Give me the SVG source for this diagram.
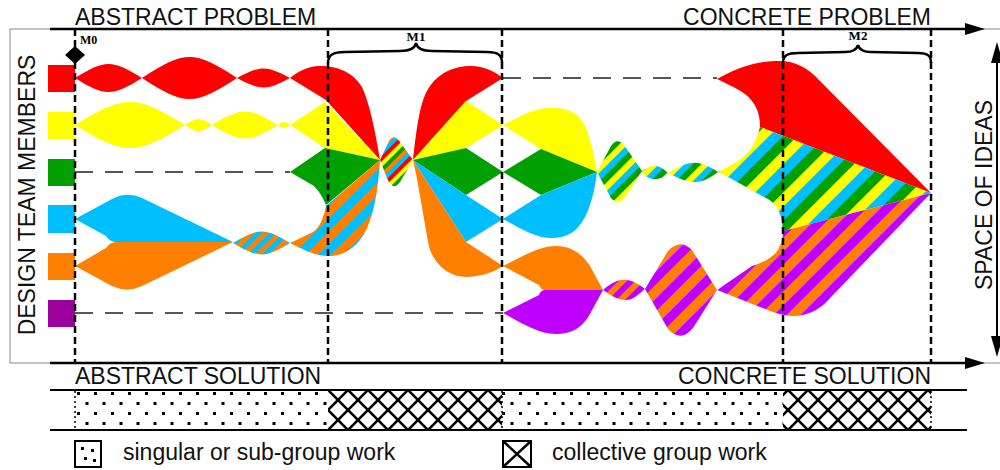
<svg xmlns="http://www.w3.org/2000/svg" width="1000" height="470" viewBox="0 0 1000 470">
<style>
text{font-family:"Liberation Sans",Arial,sans-serif;font-size:23px;fill:#111}
.m{font-family:"Liberation Serif","Times New Roman",serif;font-size:13px;font-weight:bold;fill:#000}
.vd{stroke:#000;stroke-width:2.5;stroke-dasharray:7 4;fill:none}
.bd{stroke:#000;stroke-width:1.5;stroke-dasharray:2 3;fill:none}
.hd{stroke:#222;stroke-width:1.3;stroke-dasharray:18 12;fill:none}
.ax{stroke:#000;stroke-width:2.5}
.br{stroke:#000;stroke-width:2.5;fill:none}
.r{fill:#ff0000}.y{fill:#ffff00}.g{fill:#00a000}.b{fill:#00bfff}.o{fill:#ff8000}.p{fill:#c000ff}
</style>
<defs>
<pattern id="bos" width="10" height="10" patternUnits="userSpaceOnUse" patternTransform="rotate(45)"><rect width="5" height="10" fill="#ff8000"/><rect x="5" width="5" height="10" fill="#00bfff"/></pattern>
<pattern id="bol" width="18" height="18" patternUnits="userSpaceOnUse" patternTransform="rotate(45)"><rect width="9" height="18" fill="#ff8000"/><rect x="9" width="9" height="18" fill="#00bfff"/></pattern>
<pattern id="rygbo" width="20" height="20" patternUnits="userSpaceOnUse" patternTransform="rotate(45)"><rect width="4" height="20" fill="#ff0000"/><rect x="4" width="4" height="20" fill="#ffff00"/><rect x="8" width="4" height="20" fill="#00a000"/><rect x="12" width="4" height="20" fill="#ff8000"/><rect x="16" width="4" height="20" fill="#00bfff"/></pattern>
<pattern id="ybgs" width="18" height="18" patternUnits="userSpaceOnUse" patternTransform="rotate(45)"><rect width="6" height="18" fill="#ffff00"/><rect x="6" width="6" height="18" fill="#00bfff"/><rect x="12" width="6" height="18" fill="#00a000"/></pattern>
<pattern id="ybgl" width="30" height="30" patternUnits="userSpaceOnUse" patternTransform="rotate(45)"><rect width="10" height="30" fill="#ffff00"/><rect x="10" width="10" height="30" fill="#00bfff"/><rect x="20" width="10" height="30" fill="#00a000"/></pattern>
<pattern id="pos" width="12" height="12" patternUnits="userSpaceOnUse" patternTransform="rotate(45)"><rect width="6" height="12" fill="#ff8000"/><rect x="6" width="6" height="12" fill="#c000ff"/></pattern>
<pattern id="pol" width="19" height="19" patternUnits="userSpaceOnUse" patternTransform="rotate(45)"><rect width="9.5" height="19" fill="#ff8000"/><rect x="9.5" width="9.5" height="19" fill="#c000ff"/></pattern>
<pattern id="dots" width="17" height="20" patternUnits="userSpaceOnUse" x="75" y="390"><rect x="2" y="2" width="3" height="3" fill="#000"/><rect x="10.5" y="12" width="3" height="3" fill="#000"/></pattern>
<pattern id="xh" width="20" height="20" patternUnits="userSpaceOnUse" x="328" y="390"><path d="M-2,-2L22,22M22,-2L-2,22" stroke="#000" stroke-width="2.6"/></pattern>
</defs>

<rect x="10" y="29" width="1000" height="334" fill="#fff" stroke="#888" stroke-width="1"/>

<g id="members">
<g id="member-red"><rect x="48" y="65" width="27" height="27" class="r"/></g>
<g id="member-yellow"><rect x="48" y="112" width="27" height="27" class="y"/></g>
<g id="member-green"><rect x="48" y="159" width="27" height="27" class="g"/></g>
<g id="member-blue"><rect x="48" y="205" width="27" height="28" class="b"/></g>
<g id="member-orange"><rect x="48" y="253" width="27" height="27" class="o"/></g>
<g id="member-purple"><rect x="48" y="300" width="27" height="27" fill="#9c009c"/></g>
</g>

<g id="abstract">
<path class="r" d="M75,78C105,59.3 112,59.3 142,78C112,96.7 105,96.7 75,78Z"/>
<path class="r" d="M142,78C185,50 194,50 237,78C194,106 185,106 142,78Z"/>
<path class="r" d="M237,78C261,65.3 266,65.3 290,78C266,90.7 261,90.7 237,78Z"/>
<path class="y" d="M75,125C124.5,94.3 135.5,94.3 185,125C135.5,155.7 124.5,155.7 75,125Z"/>
<path class="y" d="M185,125C197,117 200,117 212,125C200,133 197,133 185,125Z"/>
<path class="y" d="M212,125C241.7,107 248.3,107 278,125C248.3,143 241.7,143 212,125Z"/>
<path class="y" d="M278,125C283.4,121 284.6,121 290,125C284.6,129 283.4,129 278,125Z"/>
<path class="b" d="M75,219L112,199Q127,191 142,198L233,242L116,242Q110,242 106,236Z"/>
<path class="o" d="M75,266L106,248Q110,242 116,242L233,242L142,286Q127,293 112,286Z"/>
<path fill="url(#bos)" d="M233,243C258.7,227.7 264.4,227.7 290,243C264.4,258.3 258.7,258.3 233,243Z"/>
</g>

<g id="m1-funnel">
<path class="r" d="M290,78C298,72 305,67 318,66C340,65 355,75 362,87C370,105 375,130 380,160L326,100Z"/>
<path class="y" d="M290,125L325,102L380,160L325,148Z"/>
<path class="g" d="M290,172L325,148L380,160L326,205Q321,193 314,186Z"/>
<path fill="url(#bol)" d="M290,243L313,232Q322,226 326,206L380,160C378,195 372,225 360,240C350,252 340,256 328,256C315,256 300,248 290,243Z"/>
<path fill="url(#rygbo)" d="M380,160L389,141Q394,133 400,142L413,160L400,182Q393,192 387,178Z"/>
<path class="r" d="M413,160C417,125 420,100 430,86C440,72 455,66 470,66C485,66 495,72 503,78L466,101Z"/>
<path class="y" d="M413,160L466,101L503,125L466,148Z"/>
<path class="g" d="M413,160L466,148L503,172L466,195Z"/>
<path class="b" d="M413,160L466,195L503,219L466,242Z"/>
<path class="o" d="M413,160L466,242L503,266C495,271 485,276 467,277C450,277 437,267 430,250C426,235 420,190 413,160Z"/>
</g>

<g id="concrete">
<path class="y" d="M503,125C520,117 532,108 550,108C568,107 580,113 586,128C591,142 595,158 597,172L541,149Z"/>
<path class="g" d="M503,172L541,149L597,172L541,195Z"/>
<path class="b" d="M503,219L541,195L597,172C595,190 590,210 582,222C575,233 565,238 552,238C535,238 520,228 503,219Z"/>
<path fill="url(#ybgs)" d="M597,172L611,146Q617,137 624,145L642,171L625,197Q618,206 611,198Z"/>
<path fill="url(#ybgs)" d="M642,172C650,164 658,163 668,173C660,181 650,182 642,172Z"/>
<path fill="url(#ybgs)" d="M668,173C680,166 688,162 697,163C706,164 712,168 718,172C710,178 703,182 695,182C685,182 676,177 668,173Z"/>
<path class="r" d="M717,79C735,69 752,62 775,61C795,60 808,68 818,79L931,193L760,127C760,112 755,102 745,94C735,87 725,83 717,79Z"/>
<path fill="url(#ybgl)" d="M718,172C730,166 742,160 750,150C755,143 758,135 760,127L931,193L783,231C782,215 778,205 768,199C750,190 735,180 718,172Z"/>
<path class="o" d="M503,266C520,258 538,246 556,246C572,246 583,255 590,266L603,290L545,290Q541,290 539,285Z"/>
<path class="p" d="M503,313L539,295Q541,290 545,290L603,290L590,314C582,328 572,334 556,334C538,334 520,322 503,313Z"/>
<path fill="url(#pos)" d="M603,290C612,282 620,279 627,280C634,281 640,285 645,289C638,295 633,300 626,300C618,300 610,295 603,290Z"/>
<path fill="url(#pol)" d="M645,289L668,251Q680,238 692,250L717,290L693,328Q681,343 668,329Z"/>
<path fill="url(#pol)" d="M717,290L752,266C765,262 775,256 779,248C782,242 783,236 783,231L931,193L832,296C822,308 810,316 793,316C780,316 768,310 750,303Z"/>
</g>

<g id="connectors">
<line class="hd" x1="75" y1="172" x2="290" y2="172"/>
<line class="hd" x1="75" y1="313" x2="503" y2="313"/>
<line class="hd" x1="503" y1="78" x2="717" y2="78"/>
</g>

<g id="milestones">
<line class="vd" x1="75" y1="29" x2="75" y2="363"/>
<line class="vd" x1="328" y1="29" x2="328" y2="363"/>
<line class="vd" x1="502" y1="29" x2="502" y2="363"/>
<line class="vd" x1="783" y1="29" x2="783" y2="363"/>
<line class="vd" x1="931" y1="29" x2="931" y2="363"/>
<g id="m0"><polygon points="75,46 85,55 75,64 65,55" fill="#000"/><text class="m" x="80" y="44" style="font-size:12px">M0</text></g>
<g id="m1"><path class="br" d="M328,63C328,55 333,52 345,52L400,51C410,51 415,48 416,43C417,48 422,51 432,51L487,52C498,52 502,55 502,63"/><text class="m" x="416" y="41" text-anchor="middle">M1</text></g>
<g id="m2"><path class="br" d="M783,63C783,55 788,53 798,53L845,52C853,52 857,49 858,45C859,49 863,52 871,52L918,53C928,53 931,56 931,63"/><text class="m" x="858" y="40" text-anchor="middle">M2</text></g>
</g>

<g id="axes">
<line class="ax" x1="50" y1="29" x2="968" y2="29"/>
<polygon points="965,23 985,29 965,35" fill="#000"/>
<line class="ax" x1="50" y1="363" x2="968" y2="363"/>
<polygon points="965,357 985,363 965,369" fill="#000"/>
<line x1="997" y1="58" x2="997" y2="341" stroke="#000" stroke-width="2"/>
<polygon points="991,63 997,42 1003,63" fill="#000"/>
<polygon points="991,336 997,357 1003,336" fill="#000"/>
</g>

<g id="labels">
<text x="75" y="25">ABSTRACT PROBLEM</text>
<text x="931" y="25" text-anchor="end">CONCRETE PROBLEM</text>
<text x="75" y="384">ABSTRACT SOLUTION</text>
<text x="931" y="384" text-anchor="end">CONCRETE SOLUTION</text>
<text transform="translate(35,195) rotate(-90)" text-anchor="middle">DESIGN TEAM MEMBERS</text>
<text transform="translate(992,195) rotate(-90)" text-anchor="middle">SPACE OF IDEAS</text>
</g>

<g id="bands">
<rect x="75" y="391" width="253" height="38" fill="url(#dots)"/>
<rect x="328" y="391" width="174" height="38" fill="url(#xh)"/>
<rect x="502" y="391" width="281" height="38" fill="url(#dots)"/>
<rect x="783" y="391" width="148" height="38" fill="url(#xh)"/>
<line class="bd" x1="75" y1="391" x2="75" y2="429"/>
<line class="bd" x1="502" y1="391" x2="502" y2="429"/>
<line class="bd" x1="931" y1="391" x2="931" y2="429"/>
<line x1="50" y1="390" x2="967" y2="390" stroke="#000" stroke-width="2"/>
<line x1="50" y1="430" x2="967" y2="430" stroke="#000" stroke-width="2"/>
</g>

<g id="legend">
<g id="legend-singular">
<rect x="75" y="441" width="26" height="26" fill="#fff" stroke="#000" stroke-width="2"/>
<rect x="81" y="447" width="3" height="3" fill="#000"/>
<rect x="91" y="449" width="3" height="3" fill="#000"/>
<rect x="84" y="457" width="3" height="3" fill="#000"/>
<rect x="93" y="459" width="3" height="3" fill="#000"/>
<text x="123" y="460">singular or sub-group work</text>
</g>
<g id="legend-collective">
<rect x="503" y="441" width="28" height="26" fill="#fff" stroke="#000" stroke-width="2"/>
<path d="M503,441L531,467M531,441L503,467" stroke="#000" stroke-width="2.5"/>
<text x="552" y="460">collective group work</text>
</g>
</g>
</svg>
